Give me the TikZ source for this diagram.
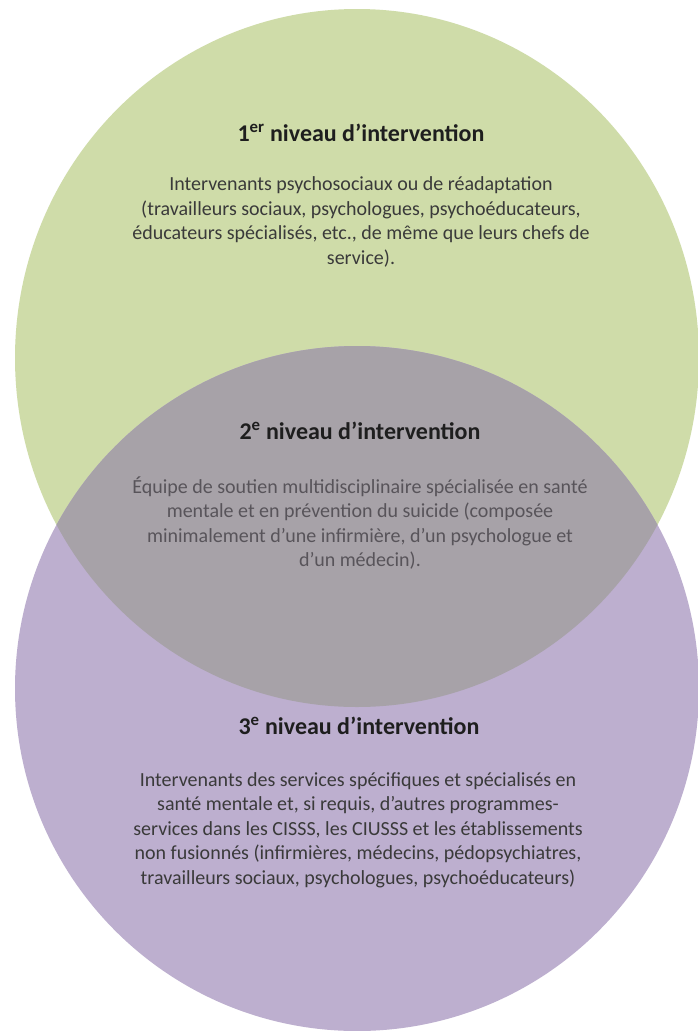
\documentclass[tikz,border=0pt]{standalone}
\usepackage{fontspec}
\setmainfont{Carlito}
\definecolor{lvgreen}{RGB}{207,220,169}
\definecolor{lvpurple}{RGB}{189,175,207}
\definecolor{lvgray}{RGB}{167,162,168}
\definecolor{titlecol}{RGB}{30,30,30}
\definecolor{bodycol}{RGB}{58,58,58}
\definecolor{midcol}{RGB}{88,84,90}
\tikzset{
  leveltitle/.style={inner sep=0pt, text=titlecol, font=\fontsize{24}{29}\selectfont\bfseries},
  levelbody/.style={inner sep=0pt, align=center, text=bodycol, font=\fontsize{20}{24.6}\selectfont},
}
\begin{document}
\begin{tikzpicture}[x=1pt,y=-1pt]
  \fill[white] (0,0) rectangle (697,1031);
  \useasboundingbox (0,0) rectangle (697,1031);
  % circles
  \fill[lvgreen] (357,358) ellipse [x radius=342pt, y radius=349pt];
  \fill[lvpurple] (357,688.5) ellipse [x radius=342pt, y radius=342.5pt];
  \begin{scope}
    \clip (357,358) ellipse [x radius=342pt, y radius=349pt];
    \fill[lvgray] (357,688.5) ellipse [x radius=342pt, y radius=342.5pt];
  \end{scope}
  % level 1
  \node[leveltitle] (t1) at (361,133) {1\textsuperscript{er} niveau d’intervention};
  \node[levelbody] (b1) at (361,222) {Intervenants psychosociaux ou de réadaptation\\(travailleurs sociaux, psychologues, psychoéducateurs,\\éducateurs spécialisés, etc., de même que leurs chefs de\\service).};
  % level 2
  \node[leveltitle] (t2) at (360,431) {2\textsuperscript{e} niveau d’intervention};
  \node[levelbody, text=midcol] (b2) at (360,523) {Équipe de soutien multidisciplinaire spécialisée en santé\\mentale et en prévention du suicide (composée\\minimalement d’une infirmière, d’un psychologue et\\d’un médecin).};
  % level 3
  \node[leveltitle] (t3) at (359,726) {3\textsuperscript{e} niveau d’intervention};
  \node[levelbody] (b3) at (358,830) {Intervenants des services spécifiques et spécialisés en\\santé mentale et, si requis, d’autres programmes-\\services dans les CISSS, les CIUSSS et les établissements\\non fusionnés (infirmières, médecins, pédopsychiatres,\\travailleurs sociaux, psychologues, psychoéducateurs)};
\end{tikzpicture}
\end{document}
